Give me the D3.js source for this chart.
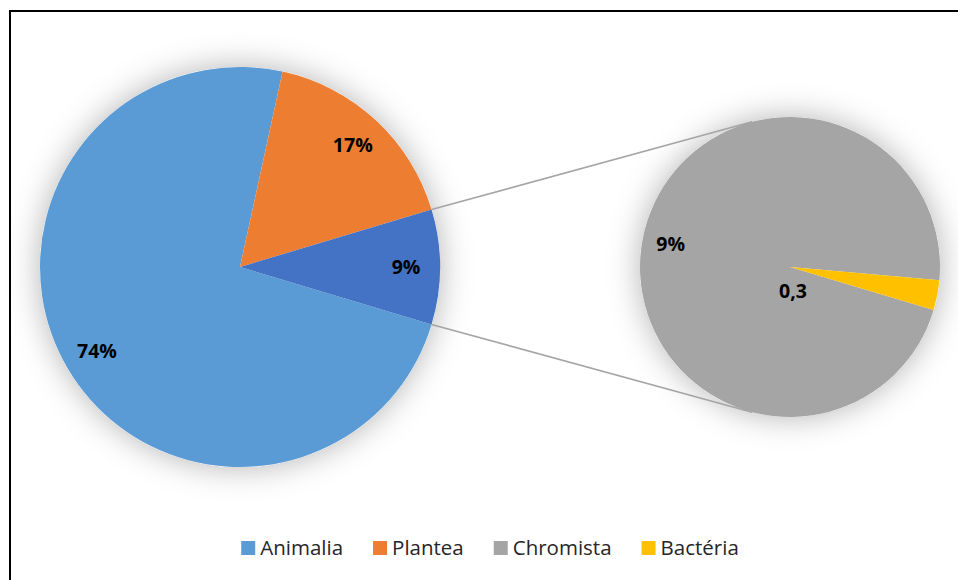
<!DOCTYPE html>
<html>
<head>
<meta charset="utf-8">
<script src="https://cdn.jsdelivr.net/npm/d3@7"></script>
<style>
  html, body { margin: 0; padding: 0; background: #fff; }
  svg { display: block; }
</style>
</head>
<body>
<svg id="chart" width="958" height="580"></svg>
<script>
// ---- data ----
const categories = ["Animalia", "Plantea", "Chromista", "Bactéria"];
const values = [74, 17, 9, 0.3];
const colors = ["#5B9BD5", "#ED7D31", "#A5A5A5", "#FFC000"];
const otherColor = "#4472C4";
const secondaryCount = 2; // last two categories go to the secondary pie
const labelTexts = ["74%", "17%", "9%", "0,3"];
const otherLabel = "9%";

// ---- layout ----
const svg = d3.select("#chart");
const P = { cx: 240, cy: 267, r: 200 };
const S = { cx: 790, cy: 267, r: 150 };
const deg = Math.PI / 180;

// frame
svg.append("rect").attr("x", 10).attr("y", 11).attr("width", 1000).attr("height", 700)
  .attr("fill", "#fff").attr("stroke", "#000").attr("stroke-width", 2);

const defs = svg.append("defs");
const f = defs.append("filter").attr("id", "sh").attr("x", "-50%").attr("y", "-50%")
  .attr("width", "200%").attr("height", "200%");
f.append("feDropShadow").attr("dx", 0).attr("dy", 0).attr("stdDeviation", 16)
  .attr("flood-color", "#000").attr("flood-opacity", 0.3);

const n = values.length;
const primVals = values.slice(0, n - secondaryCount);
const secVals = values.slice(n - secondaryCount);
const otherSum = d3.sum(secVals);
const total = d3.sum(values);

const primData = primVals.map((v, i) => ({ v, color: colors[i], label: labelTexts[i] }))
  .concat([{ v: otherSum, color: otherColor, label: otherLabel }]);
const secData = secVals.map((v, i) => ({
  v, color: colors[n - secondaryCount + i], label: labelTexts[n - secondaryCount + i]
}));

// primary: "other" slice centred on the right (90deg), drawn last
const otherAngle = otherSum / total * 2 * Math.PI;
const oEnd = Math.PI / 2 + otherAngle / 2;

const pt = (c, a, r) => [c.cx + r * Math.sin(a), c.cy - r * Math.cos(a)];
const tangA = 14.6 * deg;
const conn = [
  [pt(P, Math.PI / 2 - otherAngle / 2, P.r), pt(S, -tangA, S.r)],
  [pt(P, Math.PI / 2 + otherAngle / 2, P.r), pt(S, Math.PI + tangA, S.r)]
];

// shadows
svg.append("circle").attr("cx", P.cx).attr("cy", P.cy).attr("r", P.r).attr("fill", "#fff").attr("filter", "url(#sh)");
svg.append("circle").attr("cx", S.cx).attr("cy", S.cy).attr("r", S.r).attr("fill", "#fff").attr("filter", "url(#sh)");

// connector lines (beneath pies)
svg.append("g").selectAll("line").data(conn).join("line")
  .attr("x1", d => d[0][0]).attr("y1", d => d[0][1])
  .attr("x2", d => d[1][0]).attr("y2", d => d[1][1])
  .attr("stroke", "#A5A5A5").attr("stroke-width", 1.5);

const pieP = d3.pie().sort(null).value(d => d.v)
  .startAngle(oEnd).endAngle(oEnd + 2 * Math.PI);
const arcsP = pieP(primData);
const arcGenP = d3.arc().innerRadius(0).outerRadius(P.r);
const gP = svg.append("g").attr("transform", `translate(${P.cx},${P.cy})`);
gP.selectAll("path").data(arcsP).join("path")
  .attr("d", arcGenP).attr("fill", d => d.data.color);

// secondary: Bactéria (last) ends where the primary "other" slice ends
const pieS = d3.pie().sort(null).value(d => d.v)
  .startAngle(oEnd).endAngle(oEnd + 2 * Math.PI);
const arcsS = pieS(secData);
const arcGenS = d3.arc().innerRadius(0).outerRadius(S.r);
const gS = svg.append("g").attr("transform", `translate(${S.cx},${S.cy})`);
gS.selectAll("path").data(arcsS).join("path")
  .attr("d", arcGenS).attr("fill", d => d.data.color);

// labels
const labelFont = "'Open Sans', 'DejaVu Sans', sans-serif";
const labAt = (a, rr) => [rr * Math.sin(a), -rr * Math.cos(a)];
const styleLabel = sel => sel
  .attr("text-anchor", "middle").attr("dy", "0.36em")
  .style("font-family", labelFont).style("font-weight", 700).style("font-size", "19.5px")
  .attr("fill", "#000").text(d => d.data.label);

gP.selectAll("text").data(arcsP).join("text")
  .attr("transform", d => {
    const p = labAt((d.startAngle + d.endAngle) / 2, P.r * 0.83);
    return `translate(${p[0]},${p[1]})`;
  })
  .call(styleLabel);

gS.selectAll("text").data(arcsS).join("text")
  .attr("transform", d => {
    // tiny slice label sits near the centre of the secondary pie
    const p = (d.endAngle - d.startAngle) < 0.5 ? [3, 24]
      : labAt((d.startAngle + d.endAngle) / 2, S.r * 0.81);
    return `translate(${p[0]},${p[1]})`;
  })
  .call(styleLabel);

// legend
const lg = svg.append("g");
const items = lg.selectAll("g").data(categories).join("g");
items.append("rect").attr("width", 14).attr("height", 14).attr("y", -14)
  .attr("fill", (d, i) => colors[i]);
items.append("text").attr("x", 19).attr("y", 0)
  .style("font-family", "'Open Sans', sans-serif").style("font-size", "20.5px")
  .attr("fill", "#262626").text(d => d);
let x = 0;
const pos = [];
items.each(function (d, i) {
  const tw = d3.select(this).select("text").node().getComputedTextLength();
  pos.push(x);
  x += 19 + tw + (i < categories.length - 1 ? 30 : 0);
});
const lx0 = 490 - x / 2;
items.attr("transform", (d, i) => `translate(${lx0 + pos[i]},555)`);
</script>
</body>
</html>
